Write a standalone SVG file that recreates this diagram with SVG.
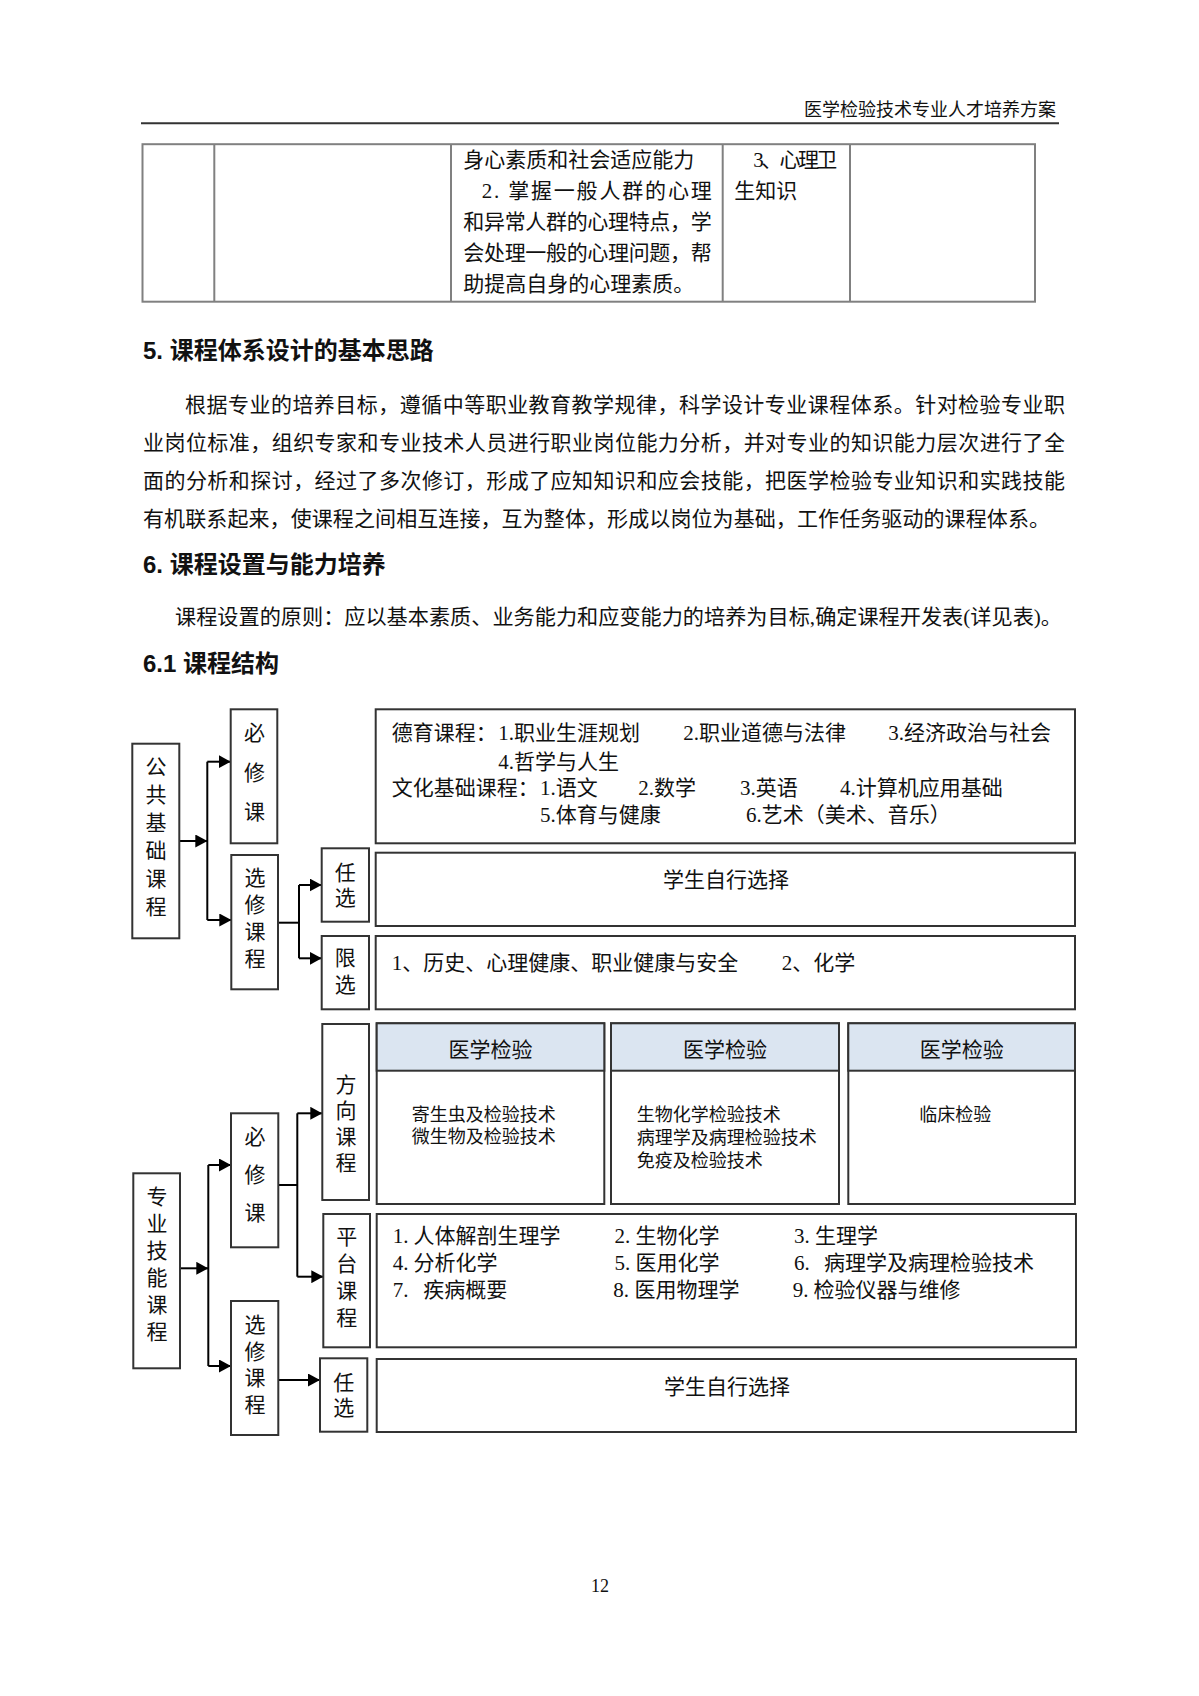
<svg xmlns="http://www.w3.org/2000/svg" width="1199" height="1696" viewBox="0 0 1199 1696">
<style>
.t{font-family:"Liberation Serif","Noto Sans CJK SC",serif;fill:#111;dominant-baseline:central}
.s21{font-size:21px}
.s18{font-size:18px}
.h{font-family:"Liberation Sans","Noto Sans CJK SC",sans-serif;font-weight:bold;font-size:24px;fill:#111;dominant-baseline:central}
.v{font-family:"Liberation Serif","Noto Sans CJK SC",serif;font-size:21px;fill:#111;text-anchor:middle;dominant-baseline:central}
.c{text-anchor:middle}
.box{fill:#fff;stroke:#333;stroke-width:2}
.hd{fill:#dbe5f1;stroke:#333;stroke-width:2}
.tbl{fill:none;stroke:#808080;stroke-width:2}
.conn{stroke:#000;stroke-width:2;fill:none}
</style>
<defs>
<marker id="arr" markerWidth="12" markerHeight="13" refX="12" refY="6.5" orient="auto" markerUnits="userSpaceOnUse">
<path d="M0,0 L12,6.5 L0,13 Z" fill="#000"/>
</marker>
</defs>
<rect width="1199" height="1696" fill="#fff"/>

<g id="page-header">
<text class="t s18" x="1056" y="110" text-anchor="end">医学检验技术专业人才培养方案</text>
<line x1="141" y1="123.3" x2="1059" y2="123.3" stroke="#333" stroke-width="2"/>
</g>

<g id="table">
<rect class="tbl" x="142.5" y="144.2" width="892.5" height="157.5"/>
<line class="tbl" x1="214.3" y1="144.2" x2="214.3" y2="301.7"/>
<line class="tbl" x1="451" y1="144.2" x2="451" y2="301.7"/>
<line class="tbl" x1="722.7" y1="144.2" x2="722.7" y2="301.7"/>
<line class="tbl" x1="850" y1="144.2" x2="850" y2="301.7"/>
<text class="t s21" x="463.3" y="160">身心素质和社会适应能力</text>
<text class="t s21" x="481.7" y="191" textLength="230" lengthAdjust="spacing">2. 掌握一般人群的心理</text>
<text class="t s21" x="463.3" y="222" textLength="248.4" lengthAdjust="spacing">和异常人群的心理特点，学</text>
<text class="t s21" x="463.3" y="253" textLength="248.4" lengthAdjust="spacing">会处理一般的心理问题，帮</text>
<text class="t s21" x="463.3" y="284">助提高自身的心理素质。</text>
<text class="t s21" x="753.3" y="160" textLength="84" lengthAdjust="spacing">3、心理卫</text>
<text class="t s21" x="734.3" y="191">生知识</text>
</g>

<g id="section5">
<text class="h" x="143" y="350">5. 课程体系设计的基本思路</text>
<text class="t s21" x="185" y="405" textLength="880" lengthAdjust="spacing">根据专业的培养目标，遵循中等职业教育教学规律，科学设计专业课程体系。针对检验专业职</text>
<text class="t s21" x="143" y="443" textLength="922" lengthAdjust="spacing">业岗位标准，组织专家和专业技术人员进行职业岗位能力分析，并对专业的知识能力层次进行了全</text>
<text class="t s21" x="143" y="481" textLength="922" lengthAdjust="spacing">面的分析和探讨，经过了多次修订，形成了应知知识和应会技能，把医学检验专业知识和实践技能</text>
<text class="t s21" x="143" y="519" textLength="907" lengthAdjust="spacing">有机联系起来，使课程之间相互连接，互为整体，形成以岗位为基础，工作任务驱动的课程体系。</text>
</g>

<g id="section6">
<text class="h" x="143" y="564">6. 课程设置与能力培养</text>
<text class="t s21" x="175" y="617" textLength="887" lengthAdjust="spacingAndGlyphs">课程设置的原则：应以基本素质、业务能力和应变能力的培养为目标,确定课程开发表(详见表)。</text>
<text class="h" x="143" y="663">6.1 课程结构</text>
</g>

<g id="connectors">
<path class="conn" d="M179.3,841 H207.3" marker-end="url(#arr)"/>
<path class="conn" d="M207.3,761.7 V920"/>
<path class="conn" d="M207.3,761.7 H230.7" marker-end="url(#arr)"/>
<path class="conn" d="M207.3,920 H231.3" marker-end="url(#arr)"/>
<path class="conn" d="M278,922.7 H299"/>
<path class="conn" d="M299,885 V958.3"/>
<path class="conn" d="M299,885 H321.7" marker-end="url(#arr)"/>
<path class="conn" d="M299,958.3 H321.7" marker-end="url(#arr)"/>
<path class="conn" d="M180,1268.3 H208.3" marker-end="url(#arr)"/>
<path class="conn" d="M208.3,1165 V1366"/>
<path class="conn" d="M208.3,1165 H231" marker-end="url(#arr)"/>
<path class="conn" d="M208.3,1366 H231" marker-end="url(#arr)"/>
<path class="conn" d="M278.3,1185 H297.3"/>
<path class="conn" d="M297.3,1113.3 V1276.7"/>
<path class="conn" d="M297.3,1113.3 H322.3" marker-end="url(#arr)"/>
<path class="conn" d="M297.3,1276.7 H323.3" marker-end="url(#arr)"/>
<path class="conn" d="M278.3,1380 H320" marker-end="url(#arr)"/>
</g>

<g id="node-gonggong">
<rect class="box" x="132.3" y="743.7" width="47" height="194.6"/>
<text class="v"><tspan x="156" y="767">公</tspan><tspan x="156" y="795">共</tspan><tspan x="156" y="823">基</tspan><tspan x="156" y="851">础</tspan><tspan x="156" y="879">课</tspan><tspan x="156" y="907">程</tspan></text>
</g>
<g id="node-bixiu1">
<rect class="box" x="230.7" y="709.3" width="46.6" height="134"/>
<text class="v"><tspan x="254.5" y="733">必</tspan><tspan x="254.5" y="773">修</tspan><tspan x="254.5" y="812">课</tspan></text>
</g>
<g id="node-xuanxiu1">
<rect class="box" x="231.3" y="855" width="46.7" height="134.3"/>
<text class="v"><tspan x="255" y="878">选</tspan><tspan x="255" y="905">修</tspan><tspan x="255" y="932">课</tspan><tspan x="255" y="959">程</tspan></text>
</g>
<g id="node-renxuan1">
<rect class="box" x="321.7" y="848.3" width="47.3" height="73.4"/>
<text class="v"><tspan x="345.3" y="873">任</tspan><tspan x="345.3" y="898">选</tspan></text>
</g>
<g id="node-xianxuan">
<rect class="box" x="321.7" y="936" width="47.3" height="73.3"/>
<text class="v"><tspan x="345.3" y="958">限</tspan><tspan x="345.3" y="985">选</tspan></text>
</g>
<g id="node-bixiu1-content">
<rect class="box" x="375.7" y="709.3" width="699.3" height="134"/>
<text class="t s21" x="391.7" y="733.3">德育课程：</text>
<text class="t s21" x="498.3" y="733.3">1.职业生涯规划</text>
<text class="t s21" x="683.3" y="733.3">2.职业道德与法律</text>
<text class="t s21" x="888.3" y="733.3">3.经济政治与社会</text>
<text class="t s21" x="498.3" y="761.7">4.哲学与人生</text>
<text class="t s21" x="391.7" y="788.3">文化基础课程：</text>
<text class="t s21" x="540" y="788.3">1.语文</text>
<text class="t s21" x="638.3" y="788.3">2.数学</text>
<text class="t s21" x="740" y="788.3">3.英语</text>
<text class="t s21" x="840" y="788.3">4.计算机应用基础</text>
<text class="t s21" x="540" y="815">5.体育与健康</text>
<text class="t s21" x="746" y="815">6.艺术（美术、音乐）</text>
</g>
<g id="node-renxuan1-content">
<rect class="box" x="375.7" y="852.7" width="699.3" height="73.3"/>
<text class="t s21 c" x="726" y="880">学生自行选择</text>
</g>
<g id="node-xianxuan-content">
<rect class="box" x="375.7" y="936" width="699.3" height="73.3"/>
<text class="t s21" x="391.7" y="963.3">1、历史、心理健康、职业健康与安全</text>
<text class="t s21" x="781.7" y="963.3">2、化学</text>
</g>

<g id="node-zhuanye">
<rect class="box" x="133.3" y="1173.3" width="46.7" height="195"/>
<text class="v"><tspan x="157" y="1197">专</tspan><tspan x="157" y="1224">业</tspan><tspan x="157" y="1251">技</tspan><tspan x="157" y="1278">能</tspan><tspan x="157" y="1305">课</tspan><tspan x="157" y="1332">程</tspan></text>
</g>
<g id="node-bixiu2">
<rect class="box" x="231" y="1113.3" width="47.3" height="134"/>
<text class="v"><tspan x="255" y="1137">必</tspan><tspan x="255" y="1175">修</tspan><tspan x="255" y="1213">课</tspan></text>
</g>
<g id="node-xuanxiu2">
<rect class="box" x="231" y="1301" width="47.3" height="134"/>
<text class="v"><tspan x="255" y="1325">选</tspan><tspan x="255" y="1352">修</tspan><tspan x="255" y="1378">课</tspan><tspan x="255" y="1405">程</tspan></text>
</g>
<g id="node-fangxiang">
<rect class="box" x="322.3" y="1024" width="46.7" height="176"/>
<text class="v"><tspan x="346" y="1085">方</tspan><tspan x="346" y="1111">向</tspan><tspan x="346" y="1137">课</tspan><tspan x="346" y="1163">程</tspan></text>
</g>
<g id="node-pingtai">
<rect class="box" x="323.3" y="1214" width="46.7" height="133.3"/>
<text class="v"><tspan x="346.7" y="1237">平</tspan><tspan x="346.7" y="1264">台</tspan><tspan x="346.7" y="1291">课</tspan><tspan x="346.7" y="1318">程</tspan></text>
</g>
<g id="node-renxuan2">
<rect class="box" x="320" y="1358.3" width="47.3" height="73.4"/>
<text class="v"><tspan x="343.7" y="1383">任</tspan><tspan x="343.7" y="1408">选</tspan></text>
</g>
<g id="node-yixue1">
<rect class="box" x="376.7" y="1023.3" width="227.6" height="180.7"/>
<rect class="hd" x="376.7" y="1023.3" width="227.6" height="47.4"/>
<text class="t s21 c" x="490.5" y="1050" fill="#333">医学检验</text>
<text class="t s18" x="411.7" y="1115">寄生虫及检验技术</text>
<text class="t s18" x="411.7" y="1137">微生物及检验技术</text>
</g>
<g id="node-yixue2">
<rect class="box" x="611" y="1023.3" width="228" height="180.7"/>
<rect class="hd" x="611" y="1023.3" width="228" height="47.4"/>
<text class="t s21 c" x="725" y="1050">医学检验</text>
<text class="t s18" x="636.7" y="1115">生物化学检验技术</text>
<text class="t s18" x="636.7" y="1138">病理学及病理检验技术</text>
<text class="t s18" x="636.7" y="1161">免疫及检验技术</text>
</g>
<g id="node-yixue3">
<rect class="box" x="848.3" y="1023.3" width="226.7" height="180.7"/>
<rect class="hd" x="848.3" y="1023.3" width="226.7" height="47.4"/>
<text class="t s21 c" x="961.7" y="1050">医学检验</text>
<text class="t s18" x="919.3" y="1115">临床检验</text>
</g>
<g id="node-pingtai-content">
<rect class="box" x="376.7" y="1214" width="699.3" height="133.3"/>
<text class="t s21" y="1236"><tspan x="392.7">1. </tspan><tspan x="413.5">人体解剖生理学</tspan></text>
<text class="t s21" y="1236"><tspan x="614.5">2. </tspan><tspan x="635.5">生物化学</tspan></text>
<text class="t s21" y="1236"><tspan x="794">3. </tspan><tspan x="815">生理学</tspan></text>
<text class="t s21" y="1263.3"><tspan x="392.7">4. </tspan><tspan x="413.5">分析化学</tspan></text>
<text class="t s21" y="1263.3"><tspan x="614.5">5. </tspan><tspan x="635.5">医用化学</tspan></text>
<text class="t s21" y="1263.3"><tspan x="794">6.  </tspan><tspan x="824">病理学及病理检验技术</tspan></text>
<text class="t s21" y="1290"><tspan x="392.7">7.  </tspan><tspan x="423.3">疾病概要</tspan></text>
<text class="t s21" y="1290"><tspan x="613.3">8. </tspan><tspan x="634.5">医用物理学</tspan></text>
<text class="t s21" y="1290"><tspan x="792.7">9. </tspan><tspan x="813.5">检验仪器与维修</tspan></text>
</g>
<g id="node-renxuan2-content">
<rect class="box" x="376.7" y="1359" width="699.3" height="73"/>
<text class="t s21 c" x="727" y="1386.7">学生自行选择</text>
</g>

<g id="page-number">
<text class="t s18 c" x="600" y="1586">12</text>
</g>
</svg>
